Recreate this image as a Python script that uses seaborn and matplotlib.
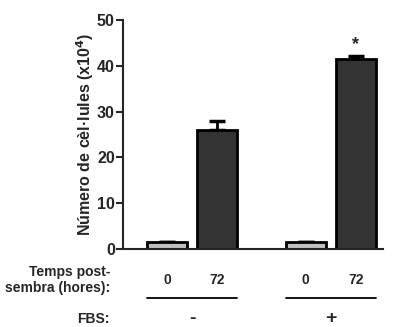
import matplotlib
matplotlib.use("Agg")
import matplotlib.pyplot as plt
import seaborn as sns
import pandas as pd

# data
fbs = ["-", "-", "+", "+"]
hours = ["0", "72", "0", "72"]
means = [1.5, 26.0, 1.5, 41.5]
sems = [0.0, 2.0, 0.0, 0.6]
pos = [0, 1, 2.76, 3.76]
colors = ["#c0c0c0", "#333333", "#c0c0c0", "#333333"]

df = pd.DataFrame({"pos": pos, "mean": means, "sem": sems, "hours": hours, "fbs": fbs})

sns.set_style("ticks")
plt.rcParams['font.family'] = ['Liberation Sans', 'DejaVu Sans']
plt.rcParams['font.weight'] = 'bold'

fig = plt.figure(figsize=(3.96, 3.27), dpi=100)
ax = fig.add_axes([0.311, 0.2385, 0.656, 0.70])

# error bars first (upper only), bars drawn on top
ax.errorbar(df['pos'], df['mean'], yerr=[[0]*4, df['sem']], fmt='none',
            ecolor='black', elinewidth=2, capsize=6, capthick=2.5, zorder=1)

sns.barplot(data=df, x='pos', y='mean', native_scale=True, width=0.8,
            palette=colors, hue='pos', legend=False, edgecolor='black',
            linewidth=2, errorbar=None, ax=ax, zorder=2)

ax.set_xlim(-0.88, 4.30)
ax.set_ylim(0, 50)
ax.set_yticks([0, 10, 20, 30, 40, 50])
ax.tick_params(axis='y', labelsize=11.5, width=1.5, length=5, pad=1)
for t in ax.get_yticklabels():
    t.set_fontweight('bold')
ax.set_xticks([])
ax.set_xlabel('')
ax.set_ylabel('Número de cèl·lules (x10$^4$)', fontsize=11.5, fontweight='bold', labelpad=1)
sns.despine(ax=ax)
ax.spines['left'].set_linewidth(1.5)
ax.spines['bottom'].set_linewidth(1.5)

# significance star
ax.text(pos[3], means[3] + sems[3] + 0.8, '*', ha='center', va='bottom',
        fontsize=13, fontweight='bold')

# table under the axis
tr = ax.get_xaxis_transform()
for p, h in zip(pos, hours):
    ax.text(p, -0.135, h, transform=tr, ha='center', va='center',
            fontsize=10, fontweight='bold')
ax.text(-1.14, -0.135, 'Temps post-\nsembra (hores):', transform=tr, ha='right',
        va='center', fontsize=10, fontweight='bold', linespacing=1.25)
for i in (0, 2):
    ax.plot([pos[i] - 0.4, pos[i + 1] + 0.4], [-0.214, -0.214], transform=tr,
            color='black', lw=1.3, clip_on=False)
    ax.text((pos[i] + pos[i + 1]) / 2, -0.305, fbs[i], transform=tr, ha='center',
            va='center', fontsize=14, fontweight='bold')
ax.text(-1.14, -0.305, 'FBS:', transform=tr, ha='right', va='center',
        fontsize=10, fontweight='bold')

fig.savefig('out.png', dpi=100)
